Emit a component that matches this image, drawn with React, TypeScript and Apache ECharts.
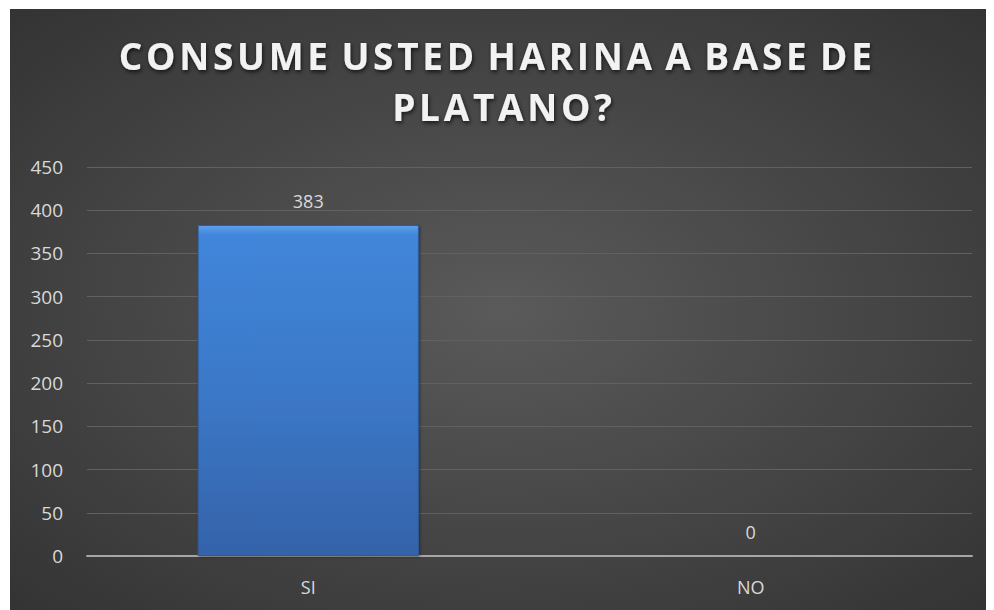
import React, { useEffect, useRef } from "react";
import * as echarts from "echarts";

const titleLines = ["CONSUME USTED HARINA A BASE DE ", "PLATANO?"];
const categories = ["SI", "NO"];
const values = [383, 0];
const yMin = 0;
const yMax = 450;
const yStep = 50;

// Excel title uses expanded character spacing: emulate with hair spaces
const spaced = (s: string) =>
  s
    .split("")
    .map((c, i, arr) => (i < arr.length - 1 && c !== " " ? c + "\u200A" : c))
    .join("");

export default function App() {
  const ref = useRef<HTMLDivElement>(null);
  useEffect(() => {
    if (!ref.current) return;
    const chart = echarts.init(ref.current, null, { renderer: "svg" });
    chart.setOption({
      animation: false,
      backgroundColor: {
        type: "radial",
        x: 0.5,
        y: 0.5,
        r: 0.95,
        colorStops: [
          { offset: 0, color: "#5a5a5a" },
          { offset: 1, color: "#262626" },
        ],
      },
      title: {
        text: titleLines.map(spaced).join("\n"),
        left: "center",
        top: 16,
        textStyle: {
          color: "#f2f2f2",
          fontSize: 37,
          fontWeight: "bold",
          fontFamily: "Open Sans",
          lineHeight: 51,
          textShadowColor: "rgba(0,0,0,0.7)",
          textShadowBlur: 4,
          textShadowOffsetX: 1,
          textShadowOffsetY: 2,
        },
      },
      grid: { left: 77, right: 22, top: 158, bottom: 54 },
      xAxis: {
        type: "category",
        data: categories,
        axisLine: { lineStyle: { color: "#a6a6a6", width: 2 } },
        axisTick: { show: false },
        axisLabel: {
          color: "#d9d9d9",
          fontSize: 18,
          fontFamily: "Open Sans",
          margin: 22,
        },
      },
      yAxis: {
        type: "value",
        min: yMin,
        max: yMax,
        interval: yStep,
        axisLine: { show: false },
        axisTick: { show: false },
        splitLine: { lineStyle: { color: "#616161", width: 1 } },
        axisLabel: {
          color: "#d9d9d9",
          fontSize: 19,
          fontFamily: "Open Sans",
          margin: 24,
        },
      },
      series: [
        {
          type: "bar",
          data: values,
          barWidth: "50%",
          itemStyle: {
            color: {
              type: "linear",
              x: 0,
              y: 0,
              x2: 0,
              y2: 1,
              colorStops: [
                { offset: 0, color: "#5ea0ee" },
                { offset: 0.03, color: "#4186da" },
                { offset: 0.5, color: "#3b78c8" },
                { offset: 1, color: "#3563a9" },
              ],
            },
            borderColor: "#2e5a9a",
            borderWidth: 1,
            shadowColor: "rgba(0,0,0,0.4)",
            shadowBlur: 3,
            shadowOffsetX: 1,
            shadowOffsetY: 1,
          },
          label: {
            show: true,
            position: "top",
            distance: 15,
            color: "#d9d9d9",
            fontSize: 18,
            fontFamily: "Open Sans",
          },
        },
      ],
    });
    return () => chart.dispose();
  }, []);
  return (
    <div
      ref={ref}
      style={{ width: 984, height: 601, margin: "1px 0 0 2px" }}
    />
  );
}
